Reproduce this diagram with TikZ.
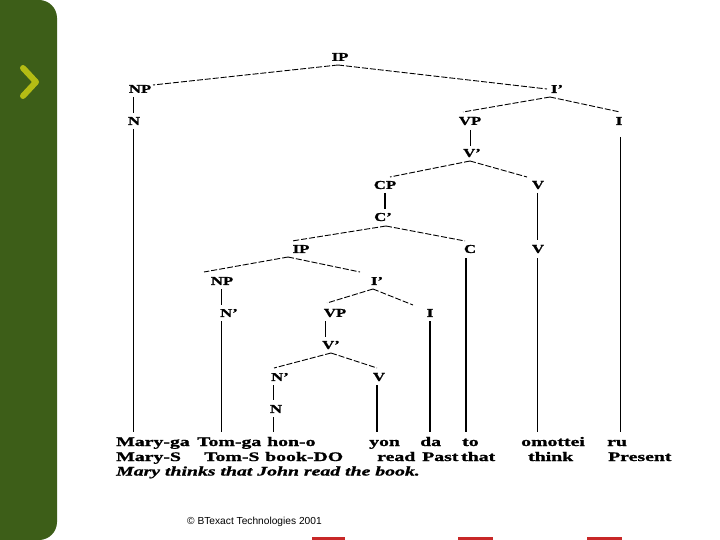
\documentclass[tikz,border=0pt]{standalone}
\usepackage{fontspec}
\setmainfont{Liberation Serif}
\newfontfamily\wordfont[FakeStretch=1.52,FakeBold=1.2]{Liberation Serif}
\newfontfamily\labfont[FakeStretch=1.4,FakeBold=1.2]{Liberation Serif}
\newfontfamily\copyfont{Liberation Sans}
\usetikzlibrary{calc}
\definecolor{bargreen}{RGB}{61,94,24}
\definecolor{chev}{RGB}{180,188,20}
\definecolor{markred}{RGB}{200,40,40}
\begin{document}
\begin{tikzpicture}[x=1pt,y=-1pt,
  lab/.style={inner sep=0pt, font=\labfont\bfseries\fontsize{12}{12}\selectfont},
  wrd/.style={inner sep=0pt, anchor=base west, font=\wordfont\bfseries\fontsize{13}{13}\selectfont},
  wrdit/.style={inner sep=0pt, anchor=base west, font=\wordfont\bfseries\itshape\fontsize{13}{13}\selectfont},
  br/.style={line width=0.9pt, dash pattern=on 6pt off 2pt},
  vl/.style={line width=0.9pt},
  vthick/.style={line width=1.9pt}]
\useasboundingbox (0,0) rectangle (720,540);
\clip (0,0) rectangle (720,540);
\fill[white] (0,0) rectangle (720,540);
% left bar
\fill[bargreen, rounded corners=18pt] (-30,0) rectangle (57,540);
\draw[chev, line width=6pt, line cap=round, line join=round] (23,68) -- (36,82) -- (23,96);
% labels
\node[lab] (IPa) at (340,57) {IP};
\node[lab] (NPa) at (140,89) {NP};
\node[lab] (Ipa) at (557,89) {I’};
\node[lab] (Na) at (134,121) {N};
\node[lab] (VPa) at (470,121) {VP};
\node[lab] (Ia) at (619,121) {I};
\node[lab] (Vpa) at (472,153) {V’};
\node[lab] (CP) at (385,185) {CP};
\node[lab] (Va) at (538,185) {V};
\node[lab] (Cp) at (383,217) {C’};
\node[lab] (IPb) at (301,249) {IP};
\node[lab] (C) at (470,249) {C};
\node[lab] (Vb) at (538,249) {V};
\node[lab] (NPb) at (222,281) {NP};
\node[lab] (Ipb) at (377,281) {I’};
\node[lab] (Npb) at (229,313) {N’};
\node[lab] (VPb) at (335,313) {VP};
\node[lab] (Ib) at (430,313) {I};
\node[lab] (Vpb) at (331,345) {V’};
\node[lab] (Npc) at (280,377) {N’};
\node[lab] (Vc) at (379,377) {V};
\node[lab] (Nc) at (276,409) {N};
% words
\node[wrd] (w1) at (116,446) {Mary-ga};
\node[wrd] (w2) at (197,446) {Tom-ga};
\node[wrd] (w3) at (267,446) {hon-o};
\node[wrd] (w4) at (369,446) {yon};
\node[wrd] (w5) at (420,446) {da};
\node[wrd] (w6) at (462,446) {to};
\node[wrd] (w7) at (521,446) {omottei};
\node[wrd] (w8) at (607,446) {ru};
\node[wrd] (g1) at (116,461) {Mary-S};
\node[wrd] (g2) at (204,461) {Tom-S};
\node[wrd] (g3) at (265,461) {book-DO};
\node[wrd] (g4) at (377,461) {read};
\node[wrd] (g5) at (422,461) {Past};
\node[wrd] (g6) at (461,461) {that};
\node[wrd] (g7) at (528,461) {think};
\node[wrd] (g8) at (608,461) {Present};
\node[wrdit] (tr) at (116,475.5) {Mary thinks that John read the book.};
% branches
\draw[br] ($(IPa)+(-2,8)$) -- ($(NPa)+(13,-4)$);
\draw[br] ($(IPa)+(-2,8)$) -- ($(Ipa)+(-10,0)$);
\draw[br] ($(Ipa)+(-7,8)$) -- ($(VPa)+(-7,-9)$);
\draw[br] ($(Ipa)+(-7,8)$) -- ($(Ia)+(1,-9)$);
\draw[br] ($(Vpa)+(-2,8)$) -- ($(CP)+(5,-8)$);
\draw[br] ($(Vpa)+(-2,8)$) -- ($(Va)+(-11,-8)$);
\draw[br] ($(Cp)+(3,9)$) -- ($(IPb)+(-9,-8)$);
\draw[br] ($(Cp)+(3,9)$) -- ($(C)+(-5,-8)$);
\draw[br] ($(IPb)+(-13,8)$) -- ($(NPb)+(-18,-9)$);
\draw[br] ($(IPb)+(-13,8)$) -- ($(Ipb)+(-17,-9)$);
\draw[br] ($(Ipb)+(-4,8)$) -- ($(VPb)+(-8,-10)$);
\draw[br] ($(Ipb)+(-4,8)$) -- ($(Ib)+(-17,-8)$);
\draw[br] ($(Vpb)+(0,8)$) -- ($(Npc)+(-6,-9)$);
\draw[br] ($(Vpb)+(0,8)$) -- ($(Vc)+(-2,-9)$);
% vertical lines
\draw[vl] ($(NPa)+(-7,8)$) -- ($(Na)+(-1,-8)$);
\draw[vl] ($(Na)+(-1,8)$) -- ($(w1.base west)+(17,-14)$);
\draw[vl] ($(VPa)+(0,9)$) -- ($(Vpa)+(-2,-7)$);
\draw[vl] ($(Ia)+(1,16)$) -- ($(w8.base west)+(13,-14)$);
\draw[vthick] ($(CP)+(0,8)$) -- ($(Cp)+(2,-8)$);
\draw[vl] ($(Va)+(-1,8)$) -- ($(Vb)+(-1,-9)$);
\draw[vl] ($(Vb)+(-1,9)$) -- ($(w7.base west)+(16,-14)$);
\draw[vthick] ($(C)+(-4,9)$) -- ($(w6.base west)+(4,-14)$);
\draw[vl] ($(NPb)+(-1,8)$) -- ($(Npb)+(-8,-8)$);
\draw[vl] ($(Npb)+(-8,8)$) -- ($(w2.base west)+(24,-14)$);
\draw[vl] ($(VPb)+(-10,8)$) -- ($(Vpb)+(-6,-8)$);
\draw[vthick] ($(Ib)+(0,8)$) -- ($(w5.base west)+(10,-14)$);
\draw[vthick] ($(Vc)+(-2,8)$) -- ($(w4.base west)+(8,-14)$);
\draw[vl] ($(Npc)+(-7,8)$) -- ($(Nc)+(-3,-9)$);
\draw[vl] ($(Nc)+(-3,8)$) -- ($(w3.base west)+(6,-14)$);
% footer
\node[anchor=base west, inner sep=0pt, font=\copyfont\fontsize{10.2}{11}\selectfont] (copy) at (187,524.5) {© BTexact Technologies 2001};
\fill[markred] (312,537) rectangle (345,540);
\fill[markred] (458,537) rectangle (493,540);
\fill[markred] (587,537) rectangle (622,540);
\end{tikzpicture}
\end{document}
